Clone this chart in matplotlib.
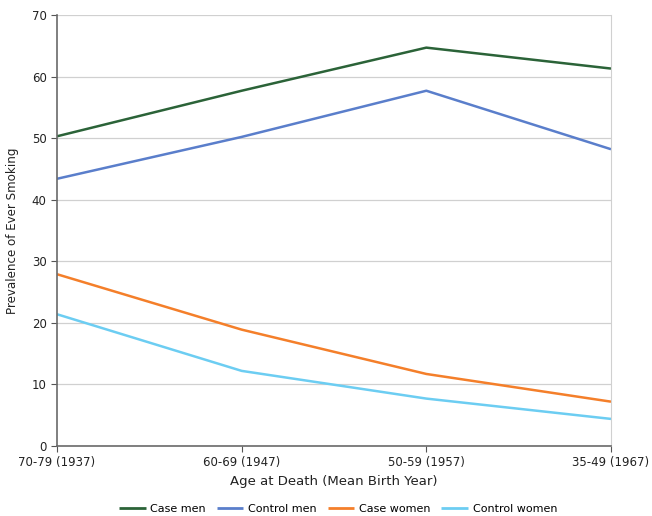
import matplotlib
matplotlib.use("Agg")
import matplotlib.pyplot as plt

categories = ["70-79 (1937)", "60-69 (1947)", "50-59 (1957)", "35-49 (1967)"]
case_men = [50.3, 57.7, 64.7, 61.3]
control_men = [43.4, 50.2, 57.7, 48.2]
case_women = [27.9, 18.9, 11.7, 7.2]
control_women = [21.4, 12.2, 7.7, 4.4]
yticks = [0, 10, 20, 30, 40, 50, 60, 70]

series = [
    ("Case men", case_men, "#2b6338"),
    ("Control men", control_men, "#5a7ecb"),
    ("Case women", case_women, "#f47f2a"),
    ("Control women", control_women, "#6ccdf2"),
]

plt.rcParams['font.family'] = ['DejaVu Sans']
fig = plt.figure(figsize=(6.52, 5.16), dpi=100)
ax = fig.add_axes([57/652, 1-446/516, (611-57)/652, (446-15)/516])

x = list(range(len(categories)))
for name, vals, col in series:
    ax.plot(x, vals, color=col, lw=1.8, label=name, solid_capstyle='butt')

ax.set_xlim(0, 3)
ax.set_ylim(0, 70)
ax.set_yticks(yticks)
ax.set_xticks(x)
ax.set_xticklabels(categories, fontsize=8.5, color="#222222")
ax.tick_params(axis='y', labelsize=8.5, colors="#222222", length=4, width=0.8, color="#555555")
ax.tick_params(axis='x', length=4, width=0.8, color="#555555")
ax.grid(axis='y', color="#d0d0d0", lw=0.9)
ax.set_axisbelow(True)
ax.spines['top'].set_visible(False)
ax.spines['right'].set_color("#d0d0d0")
ax.spines['left'].set_color("#6a6a6a")
ax.spines['bottom'].set_color("#6a6a6a")
ax.spines['left'].set_linewidth(1.2)
ax.spines['bottom'].set_linewidth(1.2)

ax.set_xlabel("Age at Death (Mean Birth Year)", fontsize=9.5, color="#222222", labelpad=4)
ax.set_ylabel("Prevalence of Ever Smoking", fontsize=8.6, color="#222222")
ax.yaxis.set_label_coords((19-57)/554, 0.5)

leg = fig.legend(loc='center', bbox_to_anchor=(338/652, 1-509/516), ncol=4, frameon=False,
                 fontsize=8, handlelength=2.4, columnspacing=1.0, handletextpad=0.4)
for line in leg.get_lines():
    line.set_linewidth(2)

fig.savefig("out.png", dpi=100)
